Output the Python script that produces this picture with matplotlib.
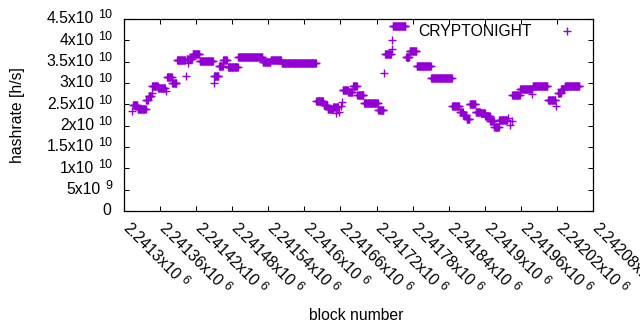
import numpy as np
import matplotlib
matplotlib.use("Agg")
import matplotlib.pyplot as plt
from matplotlib.font_manager import FontProperties

plt.rcParams['font.family'] = ['Liberation Sans', 'DejaVu Sans']

# Runs of consecutive blocks sharing one hashrate value (end exclusive)
run_start = [2241313, 2241315, 2241323, 2241337, 2241341, 2241346, 2241347, 2241357,
             2241370, 2241372, 2241380, 2241388, 2241403, 2241404, 2241407, 2241408,
             2241414, 2241426, 2241449, 2241450, 2241458, 2241465, 2241473, 2241490,
             2241531, 2241544, 2241562, 2241620, 2241632, 2241639, 2241648, 2241653,
             2241654, 2241658, 2241661, 2241662, 2241664, 2241673, 2241681, 2241688,
             2241699, 2241723, 2241732, 2241734, 2241745, 2241746, 2241747, 2241769,
             2241775, 2241787, 2241811, 2241846, 2241859, 2241864, 2241870, 2241875,
             2241885, 2241893, 2241901, 2241909, 2241916, 2241924, 2241939, 2241942,
             2241945, 2241946, 2241959, 2241979, 2241980, 2242005, 2242018, 2242022,
             2242027, 2242033]
run_end = [2241314, 2241323, 2241337, 2241341, 2241346, 2241347, 2241357, 2241369,
           2241371, 2241380, 2241388, 2241402, 2241404, 2241407, 2241408, 2241414,
           2241426, 2241449, 2241450, 2241458, 2241465, 2241472, 2241490, 2241531,
           2241544, 2241562, 2241620, 2241632, 2241639, 2241648, 2241653, 2241654,
           2241657, 2241659, 2241662, 2241663, 2241673, 2241681, 2241688, 2241699,
           2241723, 2241732, 2241733, 2241745, 2241746, 2241747, 2241769, 2241775,
           2241787, 2241811, 2241846, 2241858, 2241864, 2241870, 2241875, 2241885,
           2241893, 2241901, 2241909, 2241916, 2241924, 2241938, 2241940, 2241943,
           2241946, 2241959, 2241979, 2241980, 2242005, 2242018, 2242019, 2242027,
           2242033, 2242058]
run_value = [2.34e10, 2.48e10, 2.39e10, 2.60e10, 2.70e10, 2.76e10, 2.94e10, 2.89e10,
             2.82e10, 3.14e10, 3.00e10, 3.54e10, 3.16e10, 3.57e10, 3.46e10, 3.57e10,
             3.69e10, 3.52e10, 3.01e10, 3.16e10, 3.40e10, 3.54e10, 3.38e10, 3.60e10,
             3.49e10, 3.55e10, 3.48e10, 2.57e10, 2.48e10, 2.39e10, 2.44e10, 2.30e10,
             2.44e10, 2.32e10, 2.46e10, 2.55e10, 2.84e10, 2.80e10, 2.92e10, 2.73e10,
             2.52e10, 2.36e10, 3.23e10, 3.67e10, 3.80e10, 4.01e10, 4.34e10, 3.62e10,
             3.74e10, 3.41e10, 3.11e10, 2.47e10, 2.32e10, 2.25e10, 2.16e10, 2.50e10,
             2.31e10, 2.29e10, 2.23e10, 2.11e10, 1.98e10, 2.13e10, 2.18e10, 2.02e10,
             2.11e10, 2.73e10, 2.85e10, 2.74e10, 2.92e10, 2.59e10, 2.46e10, 2.77e10,
             2.86e10, 2.94e10]

x_ticks = [2241300, 2241360, 2241420, 2241480, 2241540, 2241600, 2241660,
           2241720, 2241780, 2241840, 2241900, 2241960, 2242020, 2242080]
x_tick_mantissa = ['2.2413', '2.24136', '2.24142', '2.24148', '2.24154', '2.2416',
                   '2.24166', '2.24172', '2.24178', '2.24184', '2.2419', '2.24196',
                   '2.24202', '2.24208']
x_tick_exp = ['6'] * 14
y_ticks = [0, 0.5e10, 1e10, 1.5e10, 2e10, 2.5e10, 3e10, 3.5e10, 4e10, 4.5e10]
y_tick_mantissa = ['0', '5', '1', '1.5', '2', '2.5', '3', '3.5', '4', '4.5']
y_tick_exp = ['', '9', '10', '10', '10', '10', '10', '10', '10', '10']
series_name = 'CRYPTONIGHT'

blocks = []
values = []
for s, e, v in zip(run_start, run_end, run_value):
    for b in range(s, e):
        blocks.append(b)
        values.append(v)

W, H = 640, 330
PT = 0.72  # points per pixel at dpi 100
FS, FS_SUP = 11.3, 9.0
fig = plt.figure(figsize=(W / 100, H / 100), dpi=100)
ax = fig.add_axes([124 / W, 1 - 211 / H, (593 - 124) / W, (211 - 19) / H])
renderer = fig.canvas.get_renderer()


def text_width_px(s, size):
    w, h, d = renderer.get_text_width_height_descent(s, FontProperties(size=size), ismath=False)
    return w


color = '#9400D3'
ax.plot(blocks, values, linestyle='none', marker='+', markersize=5.8,
        markeredgewidth=1.0, color=color, label=series_name)

ax.set_xlim(x_ticks[0], x_ticks[-1])
ax.set_ylim(y_ticks[0], y_ticks[-1])
ax.set_xticks(x_ticks)
ax.set_yticks(y_ticks)
ax.set_xticklabels([])
ax.set_yticklabels([])
ax.tick_params(direction='in', length=3.6, width=0.75, top=True, right=True,
               colors='black')
for sp in ax.spines.values():
    sp.set_linewidth(0.9)

# y tick labels: mantissa "x10" + superscript exponent, right aligned 12 px left of axis
for v, m, e in zip(y_ticks, y_tick_mantissa, y_tick_exp):
    if e:
        sw = text_width_px(e, FS_SUP)
        ax.annotate(e, xy=(0, v), xycoords=('axes fraction', 'data'),
                    xytext=(-12 * PT, 0.7 * PT), textcoords='offset points',
                    ha='right', va='baseline', fontsize=FS_SUP)
        ax.annotate(m + 'x10', xy=(0, v), xycoords=('axes fraction', 'data'),
                    xytext=(-(12 + sw + 4) * PT, -4.3 * PT), textcoords='offset points',
                    ha='right', va='baseline', fontsize=FS)
    else:
        ax.annotate(m, xy=(0, v), xycoords=('axes fraction', 'data'),
                    xytext=(-13 * PT, -4.3 * PT), textcoords='offset points',
                    ha='right', va='baseline', fontsize=FS)

# x tick labels rotated -45 degrees
c = np.cos(np.radians(45))
bx, by = -2.0, -18.0  # baseline-left of label relative to tick (px, y up)
for t, m, e in zip(x_ticks, x_tick_mantissa, x_tick_exp):
    main = m + 'x10'
    ax.annotate(main, xy=(t, 0), xycoords=('data', 'axes fraction'),
                xytext=(bx * PT, by * PT), textcoords='offset points',
                ha='left', va='baseline', rotation=-45, rotation_mode='anchor',
                fontsize=FS, annotation_clip=False)
    w = text_width_px(main, FS) + 4
    raise_ = 5.0
    sx = bx + w * c + raise_ * c
    sy = by - w * c + raise_ * c
    ax.annotate(e, xy=(t, 0), xycoords=('data', 'axes fraction'),
                xytext=(sx * PT, sy * PT), textcoords='offset points',
                ha='left', va='baseline', rotation=-45, rotation_mode='anchor',
                fontsize=FS_SUP, annotation_clip=False)

fig.text(18 / W, 1 - 115 / H, 'hashrate [h/s]', rotation=90, ha='center',
         va='center', fontsize=FS)
fig.text(356 / W, 1 - 315 / H, 'block number', ha='center', va='center',
         fontsize=FS)

ax.legend(loc='center right', bbox_to_anchor=(583 / W, 1 - 32 / H),
          bbox_transform=fig.transFigure, frameon=False, markerfirst=False,
          fontsize=FS, handlelength=2.0, handletextpad=1.25, borderpad=0,
          borderaxespad=0)

fig.savefig('out.png', dpi=100)
